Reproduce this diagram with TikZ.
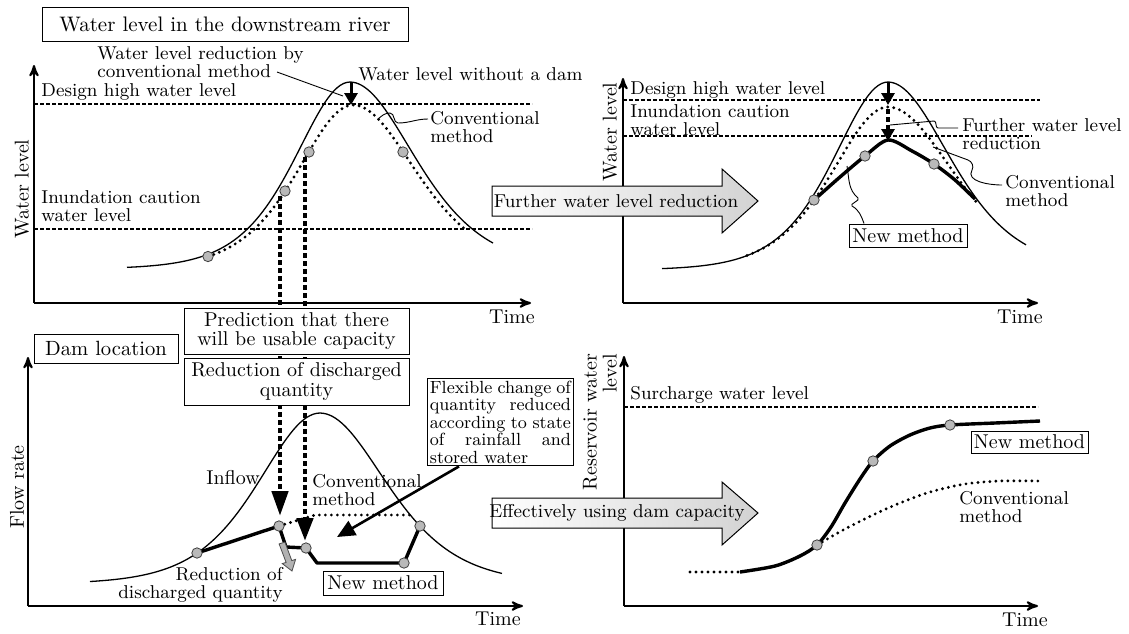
\documentclass[tikz,border=0pt]{standalone}
\usepackage{fontspec}
\usepackage{tikz}
\usetikzlibrary{arrows}
\usetikzlibrary{arrows.meta}
\usetikzlibrary{positioning}

\tikzset{
  lbl/.style={font=\fontsize{9.3}{9}\selectfont, inner sep=0pt, align=left},
  axlbl/.style={font=\fontsize{10}{10}\selectfont, inner sep=0pt},
  box/.style={draw, fill=white, line width=0.5pt, inner sep=1pt, align=center,
              font=\fontsize{10}{9.6}\selectfont},
  axisline/.style={line width=1pt, ->, >=stealth'},
  lvline/.style={line width=0.6pt, dash pattern=on 2pt off 1pt},
  nodam/.style={line width=0.65pt},
  conv/.style={line width=1.6pt, dash pattern=on 0pt off 3pt, line cap=round},
  newm/.style={line width=1.7pt, line join=round},
  pred/.style={line width=2.3pt, dash pattern=on 2.5pt off 1.5pt},
  gdot/.style={circle, draw=black!75, fill=gray!55, line width=0.4pt,
               minimum size=5.2pt, inner sep=0pt},
  lead/.style={line width=0.45pt},
  bigarrow/.style={draw, line width=0.5pt, left color=white, right color=gray!35},
  drop/.style={line width=1.5pt, -{Triangle[length=6pt,width=6.5pt]}},
}

\begin{document}
\begin{tikzpicture}[x=0.5pt,y=-0.5pt,
  declare function={bell(\t)=1/(cosh(\t)*cosh(\t));}]
\useasboundingbox (0,0) rectangle (1129,633);

% ---------- water level in the downstream river (conventional)
\coordinate (o1) at (34,303);
\coordinate (y1) at (34,65);
\coordinate (x1) at (531,303);
\draw[axisline] (o1) -- (y1);
\draw[axisline] (o1) -- (x1);
\node[axlbl, rotate=90] (wl1) at (22,189) {Water level};
\node[axlbl] (t1) at (512,317) {Time};

\draw[lvline] (34,104) -- (532,104);
\draw[lvline] (34,229) -- (532,229);
\node[lbl, anchor=west] (dh1) at (41,92) {Design high water level};
\node[lbl, anchor=west] (ic1) at (41,206) {Inundation caution\\water level};

\draw[nodam] plot[domain=127:350, samples=70] (\x,{269-187*bell((\x-350)/73)})
  -- plot[domain=350:493, samples=50] (\x,{269-187*bell((\x-350)/87)});
\draw[conv] plot[domain=208:353, samples=50] (\x,{269-164*bell((\x-353)/74)})
  -- plot[domain=353:468, samples=40] (\x,{269-164*bell((\x-353)/84)});

% prediction lines down to the dam
\coordinate (pa) at (280,196);
\coordinate (pb) at (305,157);
\coordinate (qa) at (280,516);
\coordinate (qb) at (305,541);
\draw[pred, -{Triangle[length=12.5pt,width=8pt]}] (pa) -- (qa);
\draw[pred, -{Triangle[length=11.5pt,width=8pt]}] (pb) -- (qb);

\node[gdot] (a1) at (208,256.5) {};
\node[gdot] (a2) at (285,191) {};
\node[gdot] (a3) at (309,152) {};
\node[gdot] (a4) at (403,152) {};

\coordinate (pk1) at (351,82);
\coordinate (ck1) at (351,105);
\draw[drop] (pk1) -- (ck1);
\node[lbl, anchor=west] (wlr) at (97,62) {Water level reduction by\\conventional method};
\coordinate (wlrend) at (277,72);
\draw[lead] (wlrend) -- (343,96);
\node[lbl, anchor=west] (wnd) at (358,74) {Water level without a dam};
\node[lbl, anchor=west] (cm1) at (430,127) {Conventional\\method};
\draw[lead] (378,119) to[out=40,in=180] (390,113) to[out=0,in=180] (398,123)
  to[out=0,in=180] (428,119);

\node[box, minimum width=183pt, minimum height=17pt,
      font=\fontsize{10.5}{12}\selectfont] (title) at (225,24)
  {Water level in the downstream river};

% ---------- water level in the downstream river (new method)
\coordinate (o2) at (623,303);
\coordinate (y2) at (623,78);
\coordinate (x2) at (1038,303);
\draw[axisline] (o2) -- (y2);
\draw[axisline] (o2) -- (x2);
\node[axlbl, rotate=90] (wl2) at (610,132) {Water level};
\node[axlbl] (t2) at (1020,317) {Time};

\draw[lvline] (623,100) -- (1040,100);
\draw[lvline] (623,136) -- (1032,136);
\node[lbl, anchor=west] (dh2) at (630,90) {Design high water level};
\node[lbl, anchor=west] (ic2) at (630,120) {Inundation caution\\water level};

\draw[nodam] plot[domain=662:888, samples=70] (\x,{270-188*bell((\x-888)/72)})
  -- plot[domain=888:1026, samples=50] (\x,{270-188*bell((\x-888)/83)});
\draw[conv] plot[domain=747:888, samples=50] (\x,{270-163*bell((\x-888)/75)})
  -- plot[domain=888:977, samples=35] (\x,{270-163*bell((\x-888)/88)});
\draw[newm] plot[smooth] coordinates {(814,200) (840,177) (865,156) (888,140)
  (912,151) (934,164) (955,180) (975,199)};
\node[gdot] (b1) at (814,200) {};
\node[gdot] (b2) at (865,156) {};
\node[gdot] (b3) at (934,164) {};

\coordinate (pk2) at (888,82);
\coordinate (ck2) at (888,105);
\coordinate (ck2b) at (888,109);
\coordinate (nk2) at (888,141);
\draw[drop] (pk2) -- (ck2);
\draw[pred, line width=1.8pt, -{Triangle[length=6pt,width=6.5pt]}] (ck2b) -- (nk2);

\node[lbl, anchor=west] (fwr) at (962,134) {Further water level\\reduction};
\draw[lead] (890,125) -- (934,121) to[out=0,in=180] (938,128) -- (958,128);
\node[lbl, anchor=west] (cm2) at (1005,191) {Conventional\\method};
\draw[lead] (933,147) -- (968,160) to[out=-20,in=60] (972,170)
  to[out=-120,in=180] (1002,185);
\node[box, minimum width=59pt, minimum height=11.5pt] (nm2) at (908,235.5) {New method};
\draw[lead] ([xshift=-22pt]nm2.north) to[out=110,in=-30] (852,206)
  to[out=150,in=-40] (858,198) to[out=140,in=-80] (847,166);

\draw[bigarrow] (492,186) -- (722,186) -- (722,169) -- (758,201) -- (722,233)
  -- (722,216) -- (492,216) -- cycle;
\node[lbl] (fw) at (616,201) {Further water level reduction};

% ---------- dam location
\coordinate (o3) at (28,606);
\coordinate (y3) at (28,357);
\coordinate (x3) at (523,606);
\draw[axisline] (o3) -- (y3);
\draw[axisline] (o3) -- (x3);
\node[axlbl, rotate=90] (fr) at (17,487) {Flow rate};
\node[axlbl] (t3) at (498,619) {Time};

\draw[nodam] plot[domain=90:320, samples=70] (\x,{584-171*bell((\x-320)/82)})
  -- plot[domain=320:502, samples=60] (\x,{584-171*bell((\x-320)/88)});
\node[lbl, font=\fontsize{10}{10}\selectfont] (inf) at (233,478) {Inflow};

\coordinate (c1) at (197,553);
\coordinate (c2) at (279,526);
\coordinate (c3) at (306,548);
\coordinate (c4) at (404,563);
\coordinate (c5) at (420,526);
\draw[conv] (c2) -- (315,515) -- (410,515);
\draw[newm] (c1) -- (c2) -- (286,547) -- (c3) -- (317,563) -- (c4) -- (c5);
\foreach \p in {c1,c2,c3,c4,c5}
  \node[gdot] at (\p) {};

\node[lbl, anchor=west] (cm3) at (312,490) {Conventional\\method};
\node[lbl, align=right, anchor=east] (rdq) at (283,585) {Reduction of\\discharged quantity};
\draw[draw=black!70, fill=gray!60, line width=0.4pt] (284.9,542.1) -- (291.8,560.6)
  -- (295.6,559.3) -- (292,571) -- (282.3,563.6) -- (286.1,562.4) -- (279.1,543.9) -- cycle;
\node[box, minimum width=60pt, minimum height=12pt] (nm3) at (383,583) {New method};

\node[box, inner sep=1.2pt, text width=70.5pt, align=justify,
      font=\fontsize{8.8}{8.75}\selectfont, anchor=north west]
  (flex) at (427,378)
  {Flexible change of\linebreak quantity reduced\linebreak according to state\linebreak
   of rainfall and\linebreak stored water};
\coordinate (flt) at (337,537);
\draw[line width=1.3pt, -{Triangle[length=9pt,width=8pt]}] ([xshift=16pt]flex.south west) -- (flt);

\node[box, minimum width=112.5pt, minimum height=23pt] (pred) at (296.5,331)
  {Prediction that there\\will be usable capacity};
\node[box, minimum width=112.5pt, minimum height=23.5pt] (rdc) at (296.5,381.5)
  {Reduction of discharged\\quantity};
\node[box, minimum width=72pt, minimum height=14.5pt,
      font=\fontsize{10.3}{10}\selectfont] (dam) at (106,348.5) {Dam location};

% ---------- reservoir water level
\coordinate (o4) at (624,606);
\coordinate (y4) at (624,356);
\coordinate (x4) at (1038,606);
\draw[axisline] (o4) -- (y4);
\draw[axisline] (o4) -- (x4);
\node[axlbl, rotate=90, align=right] (rwl) at (600,422) {Reservoir water\\level};
\node[axlbl] (t4) at (1025,620) {Time};

\draw[lvline] (624,407) -- (1038,407);
\node[lbl, anchor=west] (sw) at (630,395) {Surcharge water level};

\coordinate (e0) at (690,572);
\coordinate (e1) at (740,572);
\draw[conv] (e0) -- (e1);
\draw[newm] plot[smooth] coordinates {(740,572) (775,566) (800,556) (817,545)
  (831,527) (845,503) (860,479) (873,461) (890,446) (910,435) (930,428)
  (950,425) (995,423) (1040,421)};
\draw[conv] plot[smooth] coordinates {(817,545) (845,529) (875,514) (900,503)
  (930,492) (965,484) (1000,481) (1040,481)};
\node[gdot] (d1) at (817,545) {};
\node[gdot] (d2) at (873,461) {};
\node[gdot] (d3) at (950,425) {};
\node[box, minimum width=58.5pt, minimum height=11pt] (nm4) at (1029.5,442) {New method};
\node[lbl, anchor=west] (cm4) at (959,507) {Conventional\\method};

\draw[bigarrow] (492,498) -- (722,498) -- (722,482) -- (758,513) -- (722,545)
  -- (722,528) -- (492,528) -- cycle;
\node[lbl] (edc) at (617,513) {Effectively using dam capacity};
\end{tikzpicture}
\end{document}
